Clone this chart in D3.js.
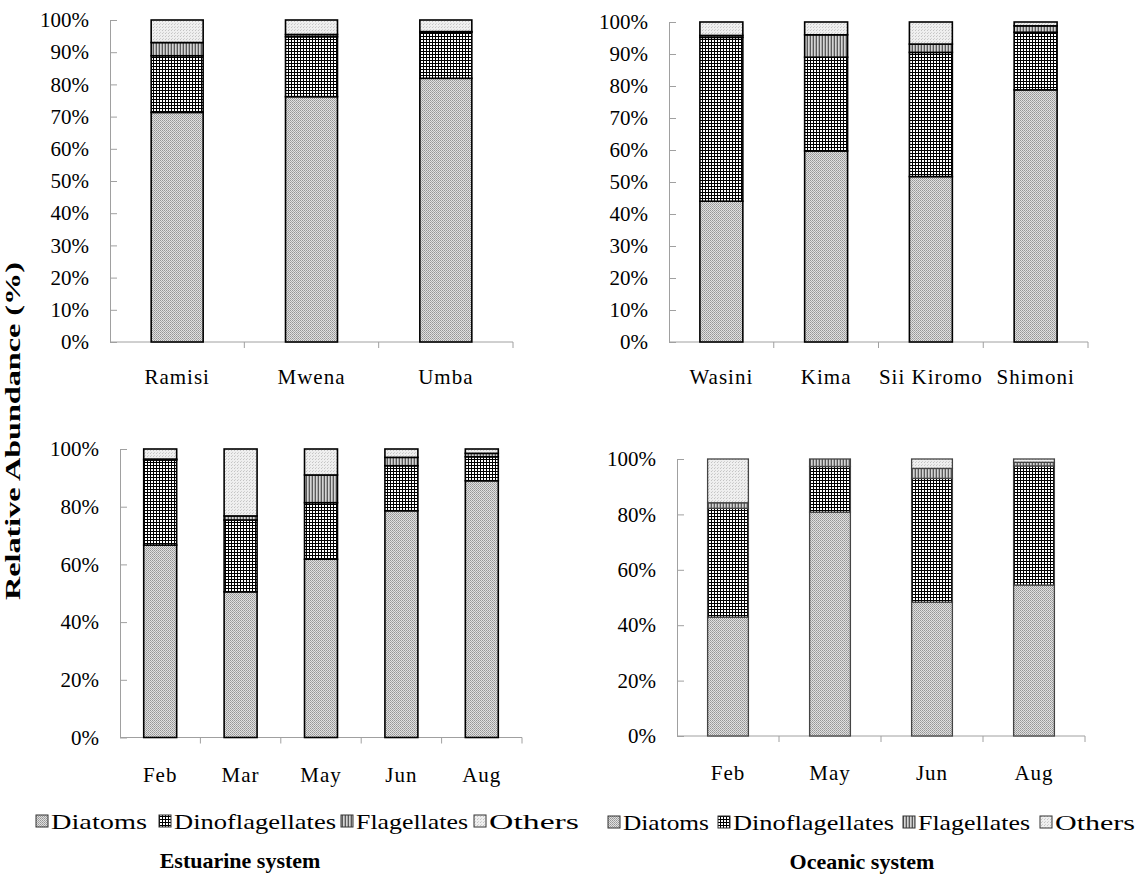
<!DOCTYPE html>
<html>
<head>
<meta charset="utf-8">
<script src="https://cdn.jsdelivr.net/npm/d3@7"></script>
<style>
  body { margin: 0; background: #fff; }
</style>
</head>
<body>
<svg id="chart" width="1139" height="876"></svg>
<script>
const FONT = "'Liberation Serif', 'Times New Roman', serif";

// series names, in stack order
const groups = ["Diatoms", "Dinoflagellates", "Flagellates", "Others"];

// estuarine sites
const estSites = ["Ramisi", "Mwena", "Umba"];
const estSiteDiatoms = [71.3, 76.2, 81.9];
const estSiteDino = [17.6, 18.6, 14.3];
const estSiteFlag = [4.1, 0.7, 0.2];
const estSiteOthers = [7.0, 4.5, 3.6];

// oceanic sites
const oceSites = ["Wasini", "Kima", "Sii Kiromo", "Shimoni"];
const oceSiteDiatoms = [44.0, 59.7, 51.7, 78.8];
const oceSiteDino = [51.2, 29.3, 38.8, 18.0];
const oceSiteFlag = [0.6, 7.0, 2.6, 2.0];
const oceSiteOthers = [4.2, 4.0, 6.9, 1.2];

// estuarine months
const estMonths = ["Feb", "Mar", "May", "Jun", "Aug"];
const estMonthDiatoms = [66.7, 50.5, 61.8, 78.6, 89.0];
const estMonthDino = [29.5, 24.9, 19.6, 15.6, 8.3];
const estMonthFlag = [0.3, 1.4, 9.6, 2.9, 1.2];
const estMonthOthers = [3.5, 23.2, 9.0, 2.9, 1.5];

// oceanic months
const oceMonths = ["Feb", "May", "Jun", "Aug"];
const oceMonthDiatoms = [42.9, 80.8, 48.3, 54.5];
const oceMonthDino = [39.3, 16.5, 44.7, 43.0];
const oceMonthFlag = [2.0, 2.7, 3.6, 1.3];
const oceMonthOthers = [15.8, 0.0, 3.4, 1.2];

const ticksTop = [0, 10, 20, 30, 40, 50, 60, 70, 80, 90, 100];
const ticksBottom = [0, 20, 40, 60, 80, 100];

const svg = d3.select("#chart");
const defs = svg.append("defs");

// fill patterns, roughly like the old excel hatch fills
function addPattern(id, w, h, bg, draw) {
  const p = defs.append("pattern")
    .attr("id", id)
    .attr("patternUnits", "userSpaceOnUse")
    .attr("width", w)
    .attr("height", h)
    .attr("shape-rendering", "crispEdges");
  p.append("rect").attr("width", w).attr("height", h).attr("fill", bg);
  draw(p);
}
addPattern("pDiatoms", 2, 2, "#e0e0e0", p => {
  p.append("rect").attr("width", 1).attr("height", 1).attr("fill", "#959595");
  p.append("rect").attr("x", 1).attr("y", 1).attr("width", 1).attr("height", 1).attr("fill", "#a8a8a8");
});
addPattern("pDino", 3, 3, "#ffffff", p => {
  p.append("rect").attr("width", 3).attr("height", 1).attr("fill", "#000");
  p.append("rect").attr("width", 1).attr("height", 3).attr("fill", "#000");
});
addPattern("pFlag", 3, 3, "#d4d4d4", p => {
  p.append("rect").attr("width", 1).attr("height", 3).attr("fill", "#5a5a5a");
  p.append("rect").attr("x", 2).attr("width", 1).attr("height", 3).attr("fill", "#aaaaaa");
});
addPattern("pOthers", 3, 3, "#efefef", p => {
  p.append("rect").attr("width", 1).attr("height", 1).attr("fill", "#c4c4c4");
  p.append("rect").attr("x", 1).attr("y", 2).attr("width", 1).attr("height", 1).attr("fill", "#d2d2d2");
});
const fills = d3.scaleOrdinal()
  .domain(groups)
  .range(["url(#pDiatoms)", "url(#pDino)", "url(#pFlag)", "url(#pOthers)"]);

function panel(cfg) {
  const rows = cfg.cats.map((c, i) => ({
    cat: c,
    Diatoms: cfg.series[0][i],
    Dinoflagellates: cfg.series[1][i],
    Flagellates: cfg.series[2][i],
    Others: cfg.series[3][i]
  }));
  const stacked = d3.stack().keys(groups)(rows);

  const x = d3.scaleBand()
    .domain(cfg.cats)
    .range([cfg.x0, cfg.x1])
    .paddingInner(cfg.pad)
    .paddingOuter(cfg.pad / 2);
  const y = d3.scaleLinear().domain([0, 100]).range([cfg.yBottom, cfg.yTop]);

  const g = svg.append("g");

  // y axis, ticks pointing inward
  const ya = g.append("g")
    .attr("transform", "translate(" + cfg.x0 + ",0)")
    .call(d3.axisLeft(y).tickValues(cfg.ticks).tickSizeInner(-7).tickSizeOuter(0)
      .tickPadding(21).tickFormat(d => d + "%"));
  ya.select(".domain").attr("stroke", "#a0a0a0");
  ya.selectAll(".tick line").attr("stroke", "#a0a0a0");
  ya.selectAll(".tick text")
    .style("font-family", FONT)
    .style("font-size", "21px")
    .attr("fill", "#000");

  // x axis with ticks between categories
  const step = x.step();
  const xa = g.append("g").attr("transform", "translate(0," + cfg.yBottom + ")");
  xa.append("line").attr("x1", cfg.x0).attr("x2", cfg.x1).attr("stroke", "#a0a0a0");
  xa.selectAll("line.sep")
    .data(d3.range(1, cfg.cats.length + 1))
    .join("line")
    .attr("class", "sep")
    .attr("x1", d => cfg.x0 + d * step)
    .attr("x2", d => cfg.x0 + d * step)
    .attr("y1", 0).attr("y2", 6)
    .attr("stroke", "#a0a0a0");
  xa.selectAll("text")
    .data(cfg.cats)
    .join("text")
    .attr("x", d => x(d) + x.bandwidth() / 2)
    .attr("y", cfg.labelDy)
    .attr("text-anchor", "middle")
    .style("font-family", FONT)
    .style("font-size", "21px")
    .style("letter-spacing", "1px")
    .text(d => d);

  // stacked bars
  g.selectAll("g.layer")
    .data(stacked)
    .join("g")
    .attr("class", "layer")
    .attr("fill", d => fills(d.key))
    .selectAll("rect")
    .data(d => d)
    .join("rect")
    .attr("x", d => x(d.data.cat))
    .attr("width", x.bandwidth())
    .attr("y", d => y(d[1]))
    .attr("height", d => y(d[0]) - y(d[1]))
    .attr("stroke", cfg.stroke)
    .attr("stroke-width", cfg.strokeW);
}

panel({ cats: estSites, series: [estSiteDiatoms, estSiteDino, estSiteFlag, estSiteOthers],
  x0: 110, x1: 513, pad: 0.613, yTop: 20, yBottom: 342, ticks: ticksTop, labelDy: 42,
  stroke: "#000", strokeW: 1.6 });
panel({ cats: oceSites, series: [oceSiteDiatoms, oceSiteDino, oceSiteFlag, oceSiteOthers],
  x0: 669, x1: 1088, pad: 0.59, yTop: 22, yBottom: 342, ticks: ticksTop, labelDy: 42,
  stroke: "#000", strokeW: 1.6 });
panel({ cats: estMonths, series: [estMonthDiatoms, estMonthDino, estMonthFlag, estMonthOthers],
  x0: 120, x1: 522, pad: 0.59, yTop: 449, yBottom: 737.5, ticks: ticksBottom, labelDy: 44,
  stroke: "#000", strokeW: 1.6 });
panel({ cats: oceMonths, series: [oceMonthDiatoms, oceMonthDino, oceMonthFlag, oceMonthOthers],
  x0: 677, x1: 1085, pad: 0.6, yTop: 459, yBottom: 736, ticks: ticksBottom, labelDy: 44,
  stroke: "#444", strokeW: 1.3 });

// shared y label
svg.append("text")
  .attr("transform", "translate(20,431) rotate(-90)")
  .attr("text-anchor", "middle")
  .style("font-family", FONT)
  .style("font-size", "21px")
  .style("font-weight", "bold")
  .attr("textLength", 338)
  .attr("lengthAdjust", "spacingAndGlyphs")
  .text("Relative Abundance (%)");

// legends
function legend(xs, widths, y) {
  const lg = svg.append("g");
  groups.forEach((k, i) => {
    lg.append("rect")
      .attr("x", xs[i]).attr("y", y - 14)
      .attr("width", 12).attr("height", 12)
      .attr("fill", fills(k))
      .attr("stroke", "#333").attr("stroke-width", 1);
    lg.append("text")
      .attr("x", xs[i] + 15).attr("y", y)
      .style("font-family", FONT)
      .style("font-size", "22px")
      .attr("textLength", widths[i])
      .attr("lengthAdjust", "spacingAndGlyphs")
      .text(k);
  });
}
legend([36, 159, 341, 474], [96, 162, 112, 90], 829);
legend([608, 718, 903, 1040], [86, 161, 112, 80], 830);

// system titles
svg.append("text").attr("x", 240).attr("y", 868).attr("text-anchor", "middle")
  .style("font-family", FONT).style("font-size", "22px").style("font-weight", "bold")
  .text("Estuarine system");
svg.append("text").attr("x", 862).attr("y", 869).attr("text-anchor", "middle")
  .style("font-family", FONT).style("font-size", "22px").style("font-weight", "bold")
  .text("Oceanic system");
</script>
</body>
</html>
